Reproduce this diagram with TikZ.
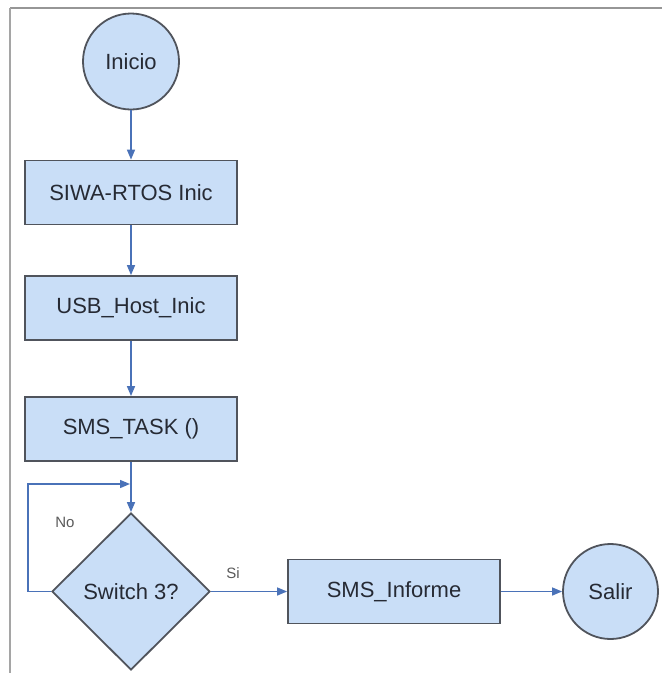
\documentclass[tikz,border=0pt]{standalone}
\usepackage{fontspec}
\setmainfont{Liberation Sans}
\usetikzlibrary{shapes.geometric,arrows.meta}

\definecolor{boxfill}{RGB}{201,222,247}
\definecolor{boxline}{RGB}{80,84,92}
\definecolor{flowblue}{RGB}{74,114,184}
\definecolor{inktext}{RGB}{38,42,52}
\definecolor{labeltext}{RGB}{90,90,90}
\definecolor{framegray}{RGB}{150,150,150}

\tikzset{
  shapebase/.style={draw=boxline, line width=1.8pt, fill=boxfill, text=inktext,
    font=\fontsize{22}{24}\selectfont, inner sep=0pt},
  terminal/.style={shapebase, circle, minimum size=96pt},
  process/.style={shapebase, rectangle, minimum width=212pt, minimum height=64pt},
  decision/.style={shapebase, diamond, minimum width=158pt, minimum height=157pt},
  flow/.style={draw=flowblue, line width=1.4pt,
    -{Triangle[length=10pt,width=8pt]}},
  branchlabel/.style={text=labeltext, font=\fontsize{15}{17}\selectfont, inner sep=0pt}
}

\begin{document}
\begin{tikzpicture}[x=1pt,y=-1pt]
  \useasboundingbox (0,0) rectangle (662,673);
  \fill[white] (0,0) rectangle (662,673);

  % page frame
  \draw[framegray, line width=2.5pt] (10,8) -- (662,8);
  \draw[framegray!110!black, line width=2pt] (10,8) -- (10,673);

  % nodes
  \node[terminal] (inicio) at (131,61.5) {Inicio};
  \node[process]  (siwa)   at (131,192.5) {SIWA-RTOS Inic};
  \node[process]  (usb)    at (131,308) {USB\_Host\_Inic};
  \node[process]  (task)   at (131,429) {SMS\_TASK ()};
  \node[decision] (sw)     at (131,591.5) {Switch 3?};
  \node[process]  (inform) at (394,591.5) {SMS\_Informe};
  \node[terminal, minimum size=95pt] (salir) at (610.5,591.5) {Salir};

  \coordinate (loopin) at (130,484);

  % connectors
  \draw[flow] (inicio) -- (siwa);
  \draw[flow] (siwa) -- (usb);
  \draw[flow] (usb) -- (task);
  \draw[flow] (task) -- (sw);
  \draw[flow] (sw.west) -- ++(-23,0) |- (loopin);
  \draw[flow] (sw.east) -- (inform.west);
  \draw[flow] (inform.east) -- (salir.west);

  % branch labels
  \node[branchlabel] (lno) at (65,522) {No};
  \node[branchlabel] (lsi) at (233,573) {Si};
\end{tikzpicture}
\end{document}
